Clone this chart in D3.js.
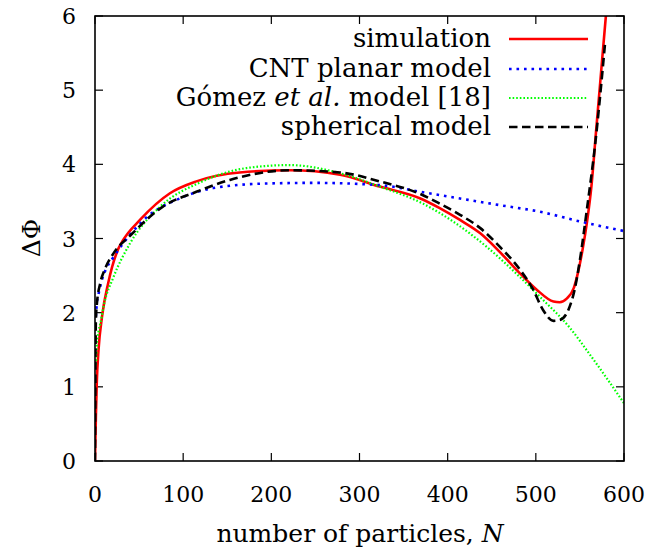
<!DOCTYPE html>
<html lang="en">
<head>
  <meta charset="UTF-8">
  <title>Delta Phi vs N</title>
  <script src="https://cdn.jsdelivr.net/npm/d3@7"></script>
  <style>
    body { margin: 0; background: #fff; }
  </style>
</head>
<body>
<div id="grafica"></div>
<script>
// ---- data ----
const xTicks = [0, 100, 200, 300, 400, 500, 600]
const yTicks = [0, 1, 2, 3, 4, 5, 6]

const simN   = [0, 1, 2, 4, 8, 15, 26, 32, 51, 85, 115, 164, 221, 278, 323, 369, 391, 414, 437, 459, 482, 501, 520, 527, 535, 543, 548, 553, 558, 563, 568, 573, 578, 582]
const simVal = [0, 0.6, 1.05, 1.5, 1.95, 2.4, 2.85, 2.98, 3.25, 3.61, 3.77, 3.89, 3.92, 3.86, 3.70, 3.54, 3.41, 3.25, 3.07, 2.82, 2.53, 2.31, 2.15, 2.14, 2.19, 2.33, 2.55, 2.85, 3.22, 3.7, 4.4, 5.1, 5.8, 6.35]

const cntN   = [1, 2, 4, 8, 13, 21, 59, 96, 134, 191, 248, 323, 369, 459, 505, 550, 600]
const cntVal = [1.95, 2.12, 2.25, 2.45, 2.6, 2.75, 3.29, 3.54, 3.68, 3.74, 3.75, 3.72, 3.63, 3.45, 3.36, 3.23, 3.10]

const gomN   = [1, 2, 4, 6, 10, 21, 40, 74, 120, 172, 221, 278, 323, 372, 406, 444, 482, 505, 539, 561, 600]
const gomVal = [1.3, 1.55, 1.75, 1.85, 2.1, 2.48, 2.94, 3.43, 3.76, 3.95, 3.99, 3.88, 3.70, 3.47, 3.23, 2.89, 2.48, 2.21, 1.79, 1.44, 0.78]

const sphN   = [0, 0.3, 0.6, 1, 2, 6, 11, 21, 40, 77, 115, 153, 221, 278, 323, 369, 391, 414, 437, 459, 482, 497, 508, 520, 527, 537, 544, 550, 558, 567, 578.5]
const sphVal = [0, 0.8, 1.5, 1.9, 2.1, 2.4, 2.58, 2.8, 3.04, 3.43, 3.63, 3.79, 3.92, 3.89, 3.77, 3.6, 3.47, 3.32, 3.14, 2.89, 2.58, 2.31, 2.04, 1.89, 1.9, 2.04, 2.31, 2.71, 3.4, 4.24, 5.63]

const series = [
  {name: 'simulation',         xs: simN, ys: simVal, color: '#ff0000', width: 2.6, dash: null},
  {name: 'CNT planar model',   xs: cntN, ys: cntVal, color: '#0000ff', width: 2.6, dash: '2.6 4.9'},
  {name: 'gomez',              xs: gomN, ys: gomVal, color: '#00ff00', width: 2.2, dash: '1.6 2'},
  {name: 'spherical model',    xs: sphN, ys: sphVal, color: '#000000', width: 2.6, dash: '8.5 4.5'}
]

// ---- layout ----
const ancho_total = 646, alto_total = 552
const margin = {left: 95, right: 22, top: 16, bottom: 91}
const ancho = ancho_total - margin.left - margin.right
const alto  = alto_total - margin.top - margin.bottom
const fuente = "'DejaVu Serif', serif"

const svg = d3.select('#grafica').append('svg')
  .attr('width', ancho_total)
  .attr('height', alto_total)
  .style('font-family', fuente)

const g = svg.append('g')
  .attr('transform', `translate(${margin.left},${margin.top})`)

const x = d3.scaleLinear().domain([0, 600]).range([0, ancho])
const y = d3.scaleLinear().domain([0, 6]).range([alto, 0])

svg.append('defs').append('clipPath').attr('id', 'clip')
  .append('rect').attr('width', ancho).attr('height', alto)

// ticks (inside, mirrored)
const tl = 8
const tickG = g.append('g').attr('stroke', '#000').attr('stroke-width', 1.2)
xTicks.forEach(t => {
  tickG.append('line').attr('x1', x(t)).attr('x2', x(t)).attr('y1', alto).attr('y2', alto - tl)
  tickG.append('line').attr('x1', x(t)).attr('x2', x(t)).attr('y1', 0).attr('y2', tl)
})
yTicks.forEach(t => {
  tickG.append('line').attr('x1', 0).attr('x2', tl).attr('y1', y(t)).attr('y2', y(t))
  tickG.append('line').attr('x1', ancho).attr('x2', ancho - tl).attr('y1', y(t)).attr('y2', y(t))
})

g.selectAll('.xlab').data(xTicks).enter().append('text')
  .attr('x', d => x(d)).attr('y', alto + 41)
  .attr('text-anchor', 'middle').attr('font-size', 22)
  .text(d => d)

g.selectAll('.ylab').data(yTicks).enter().append('text')
  .attr('x', -19).attr('y', d => y(d) + 8)
  .attr('text-anchor', 'end').attr('font-size', 22)
  .text(d => d)

// curves
const plot = g.append('g').attr('clip-path', 'url(#clip)')
series.forEach(s => {
  const pts = s.xs.map((v, i) => [v, s.ys[i]])
  const line = d3.line().x(d => x(d[0])).y(d => y(d[1])).curve(d3.curveMonotoneX)
  plot.append('path')
    .attr('d', line(pts))
    .attr('fill', 'none')
    .attr('stroke', s.color)
    .attr('stroke-width', s.width)
    .attr('stroke-dasharray', s.dash)
})

// frame
g.append('rect').attr('width', ancho).attr('height', alto)
  .attr('fill', 'none').attr('stroke', '#000').attr('stroke-width', 1.6)

// legend
const legX = 491, legL1 = 509, legL2 = 588
const rowY = [39, 69, 98, 127]
series.forEach((s, i) => {
  const t = svg.append('text')
    .attr('x', legX).attr('y', rowY[i] + 8)
    .attr('text-anchor', 'end').attr('font-size', 26)
  if (s.name === 'gomez') {
    t.append('tspan').text('Gómez ')
    t.append('tspan').attr('font-style', 'italic').text('et al.')
    t.append('tspan').text(' model [18]')
  } else {
    t.text(s.name)
  }
  svg.append('line')
    .attr('x1', legL1).attr('x2', legL2).attr('y1', rowY[i]).attr('y2', rowY[i])
    .attr('stroke', s.color).attr('stroke-width', s.width)
    .attr('stroke-dasharray', s.dash)
})

// axis titles
const xt = svg.append('text')
  .attr('x', 360).attr('y', 542)
  .attr('text-anchor', 'middle').attr('font-size', 25)
xt.append('tspan').text('number of particles, ')
xt.append('tspan').attr('font-style', 'italic').text('N')

svg.append('text')
  .attr('transform', 'translate(40,238) rotate(-90)')
  .attr('text-anchor', 'middle').attr('font-size', 25)
  .text('ΔΦ')
</script>
</body>
</html>
